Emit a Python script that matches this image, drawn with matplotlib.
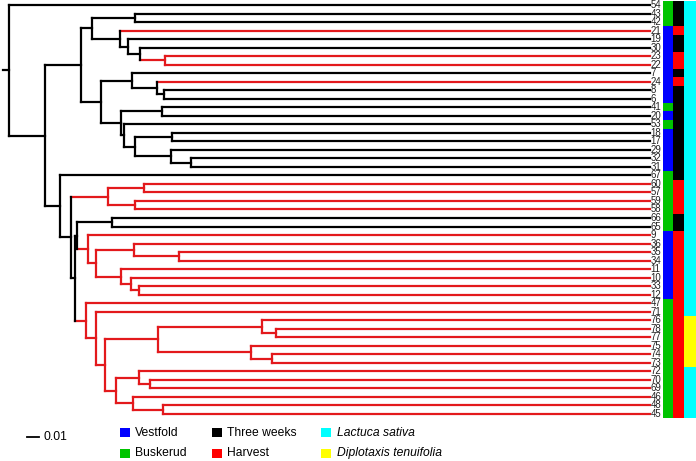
import matplotlib
matplotlib.use("Agg")
import matplotlib.pyplot as plt
from matplotlib.patches import Rectangle

# ---------------- data ----------------
leaves = ["54", "43", "42", "21", "19", "30", "23", "22", "7", "24", "8", "6",
          "41", "20", "53", "18", "17", "29", "32", "31", "67", "60", "57", "59",
          "58", "66", "65", "9", "36", "35", "34", "11", "10", "33", "12", "47",
          "71", "76", "78", "77", "75", "74", "73", "72", "70", "69", "46", "48", "45"]

# region: B = Buskerud, V = Vestfold
region = ["B", "B", "B", "V", "V", "V", "V", "V", "V", "V", "V", "V",
          "B", "V", "B", "V", "V", "V", "V", "V", "B", "B", "B", "B",
          "B", "B", "B", "V", "V", "V", "V", "V", "V", "V", "V", "B",
          "B", "B", "B", "B", "B", "B", "B", "B", "B", "B", "B", "B", "B"]

# sampling time: T = Three weeks, H = Harvest
timing = ["T", "T", "T", "H", "T", "T", "H", "H", "T", "H", "T", "T",
          "T", "T", "T", "T", "T", "T", "T", "T", "T", "H", "H", "H",
          "H", "T", "T", "H", "H", "H", "H", "H", "H", "H", "H", "H",
          "H", "H", "H", "H", "H", "H", "H", "H", "H", "H", "H", "H", "H"]

# host: L = Lactuca sativa, D = Diplotaxis tenuifolia
host = ["L", "L", "L", "L", "L", "L", "L", "L", "L", "L", "L", "L",
        "L", "L", "L", "L", "L", "L", "L", "L", "L", "L", "L", "L",
        "L", "L", "L", "L", "L", "L", "L", "L", "L", "L", "L", "L",
        "L", "D", "D", "D", "D", "D", "D", "L", "L", "L", "L", "L", "L"]

# merges: (upper child, lower child, node height); "#k" refers to merge k
merges = [
    ("43", "42", 0.4055),   # 0
    ("23", "22", 0.3819),   # 1
    ("30", "#1", 0.4016),   # 2
    ("19", "#2", 0.4110),   # 3
    ("21", "#3", 0.4173),   # 4
    ("#0", "#4", 0.4394),   # 5
    ("8", "6", 0.3827),     # 6
    ("24", "#6", 0.3882),   # 7
    ("7", "#7", 0.4079),    # 8
    ("41", "20", 0.3843),   # 9
    ("32", "31", 0.3614),   # 10
    ("29", "#10", 0.3772),  # 11
    ("18", "17", 0.3764),   # 12
    ("#12", "#11", 0.4055), # 13
    ("53", "#13", 0.4142),  # 14
    ("#9", "#14", 0.4165),  # 15
    ("#8", "#15", 0.4323),  # 16
    ("#5", "#16", 0.4480),  # 17
    ("60", "57", 0.3984),   # 18
    ("59", "58", 0.4055),   # 19
    ("#18", "#19", 0.4268), # 20
    ("66", "65", 0.4236),   # 21
    ("35", "34", 0.3709),   # 22
    ("36", "#22", 0.4063),  # 23
    ("33", "12", 0.4024),   # 24
    ("10", "#24", 0.4087),  # 25
    ("11", "#25", 0.4165),  # 26
    ("#23", "#26", 0.4362), # 27
    ("9", "#27", 0.4425),   # 28
    ("#21", "#28", 0.4512), # 29
    ("78", "77", 0.2945),   # 30
    ("76", "#30", 0.3055),  # 31
    ("74", "73", 0.2976),   # 32
    ("75", "#32", 0.3142),  # 33
    ("#31", "#33", 0.3874), # 34
    ("70", "69", 0.3937),   # 35
    ("72", "#35", 0.4024),  # 36
    ("48", "45", 0.3835),   # 37
    ("46", "#37", 0.4071),  # 38
    ("#36", "#38", 0.4205), # 39
    ("#34", "#39", 0.4291), # 40
    ("71", "#40", 0.4362),  # 41
    ("47", "#41", 0.4441),  # 42
    ("#29", "#42", 0.4528), # 43
    ("#20", "#43", 0.4559), # 44
    ("67", "#44", 0.4646),  # 45
    ("#17", "#45", 0.4764), # 46
    ("54", "#46", 0.5047),  # 47
]

legend_region = [("V", "Vestfold"), ("B", "Buskerud")]
legend_time = [("T", "Three weeks"), ("H", "Harvest")]
legend_host = [("L", "Lactuca sativa"), ("D", "Diplotaxis tenuifolia")]
scale_value = 0.01

# ---------------- style ----------------
region_col = {"V": "#0000ff", "B": "#00c400"}
time_col = {"T": "#000000", "H": "#ff0000"}
host_col = {"L": "#00ffff", "D": "#ffff00"}
RED_BRANCH = "#e3191c"
LW = 1.6

W, H, DPI = 696, 461, 100
PX_PER_UNIT = 1270.0   # pixels per branch-length unit
TIP_PX = 650.0
TOP_PX = 5.0
STEP_PX = 8.52


def X(px):
    return (px - TIP_PX) / PX_PER_UNIT


def Y(py):
    return (py - TOP_PX) / STEP_PX


plt.rcParams['font.family'] = ['Liberation Sans', 'DejaVu Sans']
fig = plt.figure(figsize=(W / DPI, H / DPI), dpi=DPI)
ax = fig.add_axes([0, 0, 1, 1])
ax.set_xlim(X(0), X(W))
ax.set_ylim(Y(H), Y(0))
ax.axis("off")

# ---------------- tree ----------------
leaf_index = {lab: i for i, lab in enumerate(leaves)}
node_y, node_x, node_red = {}, {}, {}

for lab, i in leaf_index.items():
    node_y[lab] = i
    node_x[lab] = 0.0
    node_red[lab] = (timing[i] == "H")

for k, (a, b, h) in enumerate(merges):
    key = "#%d" % k
    node_y[key] = (node_y[a] + node_y[b]) / 2.0
    node_x[key] = -h
    node_red[key] = node_red[a] and node_red[b]


def seg(x0, x1, y0, y1, red):
    ax.plot([x0, x1], [y0, y1], color=RED_BRANCH if red else "black",
            lw=LW, solid_capstyle="projecting", zorder=2)


# horizontal branches first (child colour), then verticals (node colour)
for k, (a, b, h) in enumerate(merges):
    key = "#%d" % k
    for c in (a, b):
        seg(node_x[key], node_x[c], node_y[c], node_y[c], node_red[c])
for k, (a, b, h) in enumerate(merges):
    key = "#%d" % k
    seg(node_x[key], node_x[key], node_y[a], node_y[b], node_red[key])

root = "#%d" % (len(merges) - 1)
seg(node_x[root] - X(9) + X(3), node_x[root], node_y[root], node_y[root], False)

# leaf labels
for i, lab in enumerate(leaves):
    ax.text(X(650.5), i, lab, fontsize=6.9, ha="left", va="center",
            color="#222222", zorder=3)

# colour strips
strips = [(region, region_col, 663, 673.3), (timing, time_col, 673.3, 684),
          (host, host_col, 684, 697)]
for vals, cmap, p0, p1 in strips:
    ax.barh(range(len(leaves)), [X(p1) - X(p0)] * len(leaves), left=X(p0),
            height=1.0, color=[cmap[v] for v in vals], linewidth=0, zorder=1)

# ---------------- scale bar ----------------
sx0 = X(26.7)
sy = Y(436.5)
ax.plot([sx0, sx0 + scale_value], [sy, sy], color="black", lw=1.3)
ax.text(X(44), sy, "%.2f" % scale_value, fontsize=8.7, ha="left", va="center")

# ---------------- legend ----------------
row_py = [432.5, 453.0]
groups = [(legend_region, region_col, 120.0, 135.0, "normal"),
          (legend_time, time_col, 211.7, 227.0, "normal"),
          (legend_host, host_col, 320.7, 337.0, "italic")]
for items, cmap, sq_px, txt_px, style in groups:
    for (code, name), py in zip(items, row_py):
        ax.add_patch(Rectangle((X(sq_px), Y(py + 4.5)), X(sq_px + 10) - X(sq_px),
                               Y(py - 4.5) - Y(py + 4.5), facecolor=cmap[code],
                               edgecolor="none"))
        ax.text(X(txt_px), Y(py), name, fontsize=8.7, ha="left", va="center",
                style=style)

fig.savefig("out.png", dpi=DPI)
